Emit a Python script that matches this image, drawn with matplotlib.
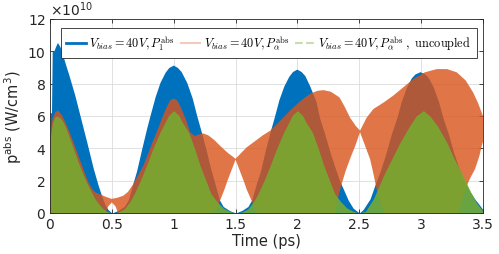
#!/usr/bin/env python3
"""Absorbed power density vs time: P1 (coupled), P_alpha (coupled), P_alpha (uncoupled)."""

import matplotlib
matplotlib.use("Agg")
import matplotlib.pyplot as plt
from matplotlib.font_manager import FontProperties
from matplotlib.lines import Line2D
import numpy as np

# ============================ DATA ================================= #
# Envelopes of the fast-oscillating signals
# (values in units of 1e10 W/cm^3, time in ps).

SCALE = 1e10

# P1^abs, oscillates between 0 and this upper envelope
t_p1 = [0.0, 0.012, 0.018, 0.03, 0.045, 0.06, 0.08, 0.1, 0.121, 0.15,
        0.2, 0.25, 0.3, 0.35, 0.39, 0.42, 0.445, 0.47, 0.5,
        0.55, 0.6, 0.633, 0.673, 0.7, 0.741, 0.78, 0.808, 0.85, 0.889,
        0.93, 0.96, 0.997, 1.03, 1.06, 1.105, 1.15, 1.186, 1.22, 1.26,
        1.3, 1.33, 1.37, 1.4, 1.45, 1.5,
        1.55, 1.6, 1.63, 1.67, 1.7, 1.74, 1.78, 1.81, 1.85, 1.89, 1.93,
        1.96, 1.995, 2.03, 2.06, 2.1, 2.15, 2.18, 2.22, 2.26, 2.3, 2.34,
        2.37, 2.41, 2.45, 2.5,
        2.53, 2.587, 2.63, 2.67, 2.72, 2.76, 2.8, 2.84, 2.88, 2.92, 2.95,
        2.991, 3.03, 3.06, 3.1, 3.14, 3.18, 3.22, 3.26, 3.3, 3.34, 3.382,
        3.43, 3.476, 3.5]
p1_up = [6.2, 6.2, 10.0, 10.0, 10.3, 10.55, 10.3, 9.85, 9.3, 8.6,
         7.3, 5.8, 4.3, 2.75, 1.69, 1.0, 0.5, 0.2, 0.0,
         0.15, 0.4, 0.8, 1.9, 2.6, 3.96, 5.2, 6.02, 7.2, 8.08,
         8.7, 9.0, 9.15, 9.0, 8.75, 8.08, 7.1, 6.02, 5.1, 3.96,
         2.7, 1.9, 0.8, 0.4, 0.15, 0.0,
         0.15, 0.4, 0.8, 1.85, 2.55, 3.85, 5.05, 5.85, 7.0, 7.85, 8.45,
         8.75, 8.9, 8.75, 8.5, 7.85, 6.9, 5.85, 4.9, 3.85, 2.9, 2.0,
         1.5, 0.8, 0.3, 0.0,
         0.2, 0.87, 1.8, 2.6, 3.8, 4.9, 5.8, 6.9, 7.75, 8.35, 8.6,
         8.74, 8.6, 8.35, 7.75, 6.9, 5.8, 4.9, 3.8, 2.9, 2.1, 1.48,
         0.9, 0.45, 0.2]

# P_alpha^abs (coupled), oscillates between a lower and an upper envelope
t_pa_up = [0.0, 0.02, 0.045, 0.067, 0.1, 0.148, 0.19, 0.229, 0.27, 0.31,
           0.34, 0.364, 0.40, 0.45, 0.498, 0.55, 0.593, 0.63, 0.67, 0.71,
           0.755, 0.8, 0.83, 0.862, 0.9, 0.94, 0.97, 1.0, 1.03, 1.06,
           1.1, 1.132, 1.17, 1.2, 1.24, 1.28, 1.33, 1.374, 1.44, 1.5,
           1.55, 1.59, 1.65, 1.72, 1.78, 1.86, 1.94, 2.02, 2.1, 2.16,
           2.21, 2.27, 2.34, 2.38, 2.425, 2.47, 2.506, 2.56, 2.614, 2.7,
           2.775, 2.86, 2.937, 3.03, 3.126, 3.21, 3.288, 3.36, 3.42, 3.46,
           3.5]
pa_up = [4.6, 5.8, 6.25, 6.33, 6.0, 5.2, 4.35, 3.55, 2.7, 1.9,
         1.5, 1.28, 1.17, 1.0, 0.87, 0.95, 1.07, 1.3, 1.75, 2.3,
         2.93, 3.8, 4.4, 4.99, 5.75, 6.5, 6.95, 7.09, 6.95, 6.5,
         5.75, 5.0, 4.76, 4.85, 4.92, 4.8, 4.5, 4.16, 3.7, 3.35,
         3.75, 4.06, 4.4, 4.8, 5.09, 5.7, 6.33, 6.9, 7.36, 7.55,
         7.6, 7.5, 7.15, 6.6, 5.9, 5.4, 5.09, 5.9, 6.43, 6.85,
         7.26, 7.8, 8.29, 8.7, 8.9, 8.9, 8.7, 8.2, 7.46, 6.8,
         6.0]
t_pa_lo = [0.0, 0.45, 0.47, 0.5, 0.53, 0.55,
           1.32, 1.35, 1.374, 1.41, 1.435, 1.47, 1.5, 1.53, 1.565, 1.59,
           1.63, 1.655, 1.68,
           2.3, 2.33, 2.358, 2.39, 2.425, 2.47, 2.506, 2.545, 2.587, 2.615,
           2.64, 2.67, 2.7,
           3.3, 3.34, 3.369, 3.4, 3.436, 3.47, 3.49, 3.5]
pa_lo = [0.0, 0.0, 0.4, 0.65, 0.4, 0.0,
         0.0, 0.3, 0.76, 1.45, 2.0, 2.7, 3.3, 2.7, 2.0, 1.45,
         0.76, 0.3, 0.0,
         0.0, 1.0, 1.8, 2.6, 3.34, 4.2, 5.0, 4.2, 3.34, 2.4,
         1.48, 0.7, 0.0,
         0.0, 1.0, 1.69, 2.2, 2.72, 3.5, 4.16, 4.4]

# P_alpha^abs (uncoupled), oscillates between 0 and this upper envelope
t_pu = [0.0, 0.01, 0.02, 0.04, 0.055, 0.08, 0.1, 0.121, 0.16, 0.2,
        0.24, 0.283, 0.32, 0.364, 0.4, 0.43, 0.46, 0.5,
        0.55, 0.6, 0.65, 0.687, 0.73, 0.78, 0.83, 0.889, 0.93, 0.96,
        1.0, 1.04, 1.07, 1.121, 1.17, 1.213, 1.26, 1.3, 1.35, 1.4,
        1.45, 1.5,
        1.55, 1.6, 1.65, 1.687, 1.73, 1.78, 1.83, 1.889, 1.93, 1.96,
        2.0, 2.04, 2.07, 2.121, 2.17, 2.213, 2.26, 2.3, 2.35, 2.4,
        2.45, 2.5,
        2.55, 2.614, 2.65, 2.695, 2.76, 2.83, 2.9, 2.96, 3.018, 3.07,
        3.13, 3.207, 3.27, 3.34, 3.4, 3.45, 3.5]
pu_up = [4.6, 5.0, 5.6, 5.95, 6.0, 5.9, 5.7, 5.4, 4.6, 3.75,
         2.9, 2.1, 1.5, 0.87, 0.5, 0.25, 0.1, 0.0,
         0.05, 0.25, 0.75, 1.28, 2.0, 2.93, 3.95, 4.99, 5.6, 6.05,
         6.33, 6.05, 5.6, 4.99, 3.95, 2.93, 2.0, 1.2, 0.7, 0.3,
         0.1, 0.0,
         0.05, 0.25, 0.75, 1.28, 2.0, 2.93, 3.95, 4.99, 5.6, 6.05,
         6.33, 6.05, 5.6, 4.99, 3.95, 2.93, 2.0, 1.2, 0.7, 0.3,
         0.1, 0.0,
         0.1, 0.87, 1.5, 2.3, 3.3, 4.37, 5.3, 6.0, 6.33, 6.0,
         5.4, 4.37, 3.3, 2.3, 1.3, 0.6, 0.1]

X_TICKS = [0, 0.5, 1, 1.5, 2, 2.5, 3, 3.5]
X_TICKLABELS = ["0", "0.5", "1", "1.5", "2", "2.5", "3", "3.5"]
Y_TICKS = [0, 2, 4, 6, 8, 10, 12]

LABELS = [
    r"$V_{bias}=40V, P_1^{\rm abs}$",
    r"$V_{bias}=40V, P_{\alpha}^{\rm abs}$",
    r"$V_{bias}=40V, P_{\alpha}^{\rm abs}\ ,\ \mathrm{uncoupled}$",
]

# ============================ PLOT ================================= #

BLUE = "#0072BD"
ORANGE = "#D95319"
GREEN = "#77AC30"
AX_COL = "#262626"

fig = plt.figure(figsize=(4.99, 2.55), dpi=100)
ax = fig.add_axes([0.1002, 0.161, 0.8677, 0.7606])

ax.fill_between(t_p1, 0, np.array(p1_up) * SCALE, color=BLUE, lw=0,
                zorder=2)

# orange band as a closed polygon: upper envelope forward, lower back
xs = np.r_[t_pa_up, t_pa_lo[::-1]]
ys = np.r_[pa_up, pa_lo[::-1]] * SCALE
ax.fill(xs, ys, color=ORANGE, alpha=0.8, lw=0, zorder=3)

ax.fill_between(t_pu, 0, np.array(pu_up) * SCALE, color=GREEN, alpha=0.88,
                lw=0, zorder=4)

ax.set_xlim(0, 3.5)
ax.set_ylim(0, 12 * SCALE)
ax.set_xticks(X_TICKS)
ax.set_xticklabels(X_TICKLABELS)
ax.set_yticks(np.array(Y_TICKS) * SCALE)
ax.ticklabel_format(axis="y", style="sci", scilimits=(10, 10),
                    useMathText=True)
ax.yaxis.get_offset_text().set_fontsize(10)
ax.yaxis.get_offset_text().set_color(AX_COL)

ax.grid(True, color="#dcdcdc", lw=0.6, zorder=0)
ax.set_axisbelow(True)
ax.tick_params(direction="in", top=True, right=True, length=3,
               width=0.6, labelsize=10, colors=AX_COL, pad=3)
for sp in ax.spines.values():
    sp.set_color(AX_COL)
    sp.set_linewidth(0.6)
    sp.set_zorder(6)

ax.set_xlabel("Time (ps)", fontsize=10.5, color=AX_COL, labelpad=1)
ax.set_ylabel(r"p$^{\rm abs}$ (W/cm$^3$)", fontsize=10.5, color=AX_COL,
              labelpad=2)

handles = [
    Line2D([0], [0], color=BLUE, lw=2.0),
    Line2D([0], [0], color=ORANGE, lw=1.5, alpha=0.3),
    Line2D([0], [0], color=GREEN, lw=1.5, ls="--", alpha=0.4),
]
leg = ax.legend(handles, LABELS, loc="upper center", ncol=3,
                bbox_to_anchor=(0.505, 0.985),
                prop=FontProperties(size=8.8, math_fontfamily="cm"),
                handlelength=1.6, handletextpad=0.3, columnspacing=0.5,
                borderpad=0.45, fancybox=False, framealpha=1.0,
                edgecolor="#262626")
leg.get_frame().set_linewidth(0.6)
leg.set_zorder(7)

fig.savefig("out.png", dpi=100)
